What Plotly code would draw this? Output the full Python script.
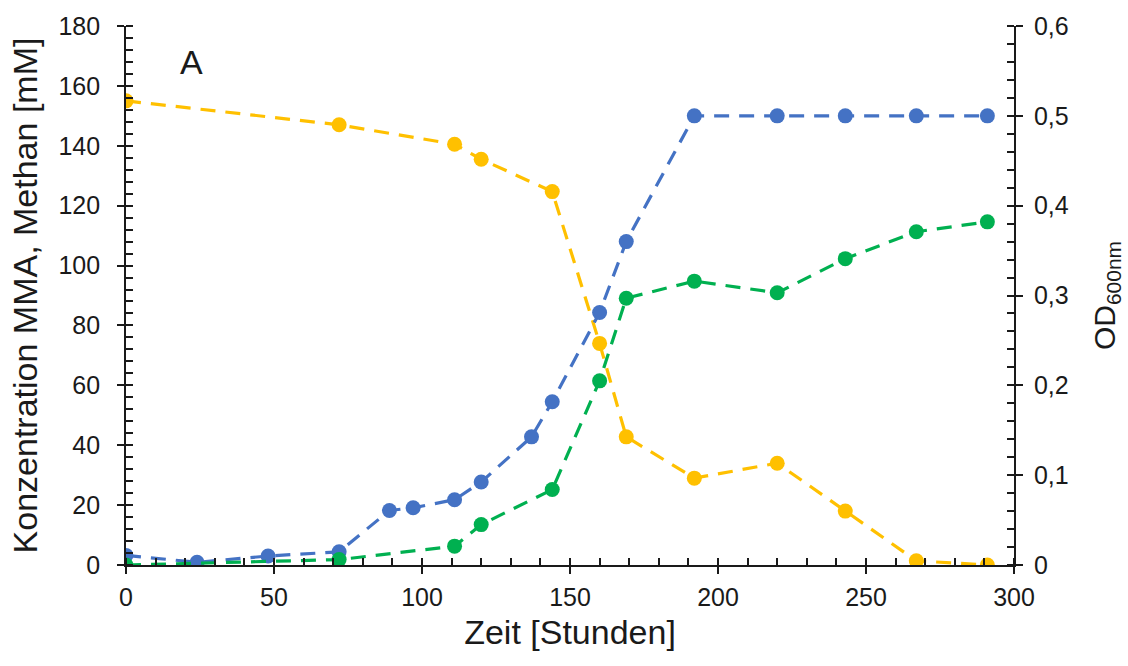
import plotly.graph_objects as go

# Zeit [h] und Messwerte
t_mma = [0, 72, 111, 120, 144, 160, 169, 192, 220, 243, 267, 291]
mma = [155, 147, 140.5, 135.5, 124.7, 74, 42.8, 29, 34, 18, 1.4, 0]

t_methan = [0, 24, 48, 72, 89, 97, 111, 120, 137, 144, 160, 169, 192, 220, 243, 267, 291]
methan = [3.2, 0.9, 3, 4.4, 18.2, 19.1, 21.8, 27.7, 42.8, 54.5, 84.3, 108, 150, 150, 150, 150, 150]

t_od = [0, 72, 111, 120, 144, 160, 169, 192, 220, 243, 267, 291]
od600 = [0, 0.006, 0.021, 0.045, 0.084, 0.205, 0.297, 0.316, 0.303, 0.341, 0.371, 0.382]

left_ticks = [0, 20, 40, 60, 80, 100, 120, 140, 160, 180]
right_ticks = [0, 0.1, 0.2, 0.3, 0.4, 0.5, 0.6]
x_ticks = [0, 50, 100, 150, 200, 250, 300]

C_MMA = "#FFC000"
C_METHAN = "#4472C4"
C_OD = "#00B050"
INK = "#1a1a1a"
FONT = "Liberation Sans, Arial, sans-serif"

DASH = "15px,10px"
MSIZE = 15
LW = 3.2

fig = go.Figure()

fig.add_trace(go.Scatter(
    x=t_od, y=od600, yaxis="y2", mode="lines+markers", name="OD600",
    line=dict(color=C_OD, width=LW, dash=DASH),
    marker=dict(color=C_OD, size=MSIZE),
))
fig.add_trace(go.Scatter(
    x=t_mma, y=mma, mode="lines+markers", name="MMA",
    line=dict(color=C_MMA, width=LW, dash=DASH),
    marker=dict(color=C_MMA, size=MSIZE),
))
fig.add_trace(go.Scatter(
    x=t_methan, y=methan, mode="lines+markers", name="Methan",
    line=dict(color=C_METHAN, width=LW, dash=DASH),
    marker=dict(color=C_METHAN, size=MSIZE),
))

tickfont = dict(family=FONT, size=25, color=INK)
titlefont = dict(family=FONT, size=34, color=INK)
minor_common = dict(ticks="inside", ticklen=7, tickwidth=1.5, tickcolor=INK)

fig.update_layout(
    width=1128, height=666,
    margin=dict(l=126, r=114, t=23, b=101),
    paper_bgcolor="white", plot_bgcolor="white",
    separators=",.",
    showlegend=False,
    font=dict(family=FONT, color=INK),
    xaxis=dict(
        range=[0, 300], tickvals=x_ticks, showgrid=False, zeroline=False,
        showline=True, linecolor=INK, linewidth=1.8,
        ticks="outside", ticklen=7, tickwidth=1.5, tickcolor=INK,
        tickfont=tickfont, ticklabelstandoff=2,
        minor=dict(dtick=10, **minor_common),
        title=dict(text="Zeit [Stunden]", font=titlefont, standoff=10),
    ),
    yaxis=dict(
        range=[0, 180], tickvals=left_ticks, showgrid=False, zeroline=False,
        showline=True, linecolor=INK, linewidth=1.8,
        ticks="outside", ticklen=7, tickwidth=1.5, tickcolor=INK,
        tickfont=tickfont, ticklabelstandoff=12,
        minor=dict(dtick=4, **minor_common),
        title=dict(text="Konzentration MMA, Methan [mM]", font=titlefont, standoff=10),
    ),
    yaxis2=dict(
        overlaying="y", side="right", anchor="x",
        range=[0, 0.6], tickvals=right_ticks, showgrid=False, zeroline=False,
        showline=True, linecolor=INK, linewidth=1.8,
        ticks="outside", ticklen=7, tickwidth=1.5, tickcolor=INK,
        tickfont=tickfont, ticklabelstandoff=6,
        minor=dict(dtick=0.02, **minor_common),
        title=dict(text="OD<sub>600nm</sub>", font=dict(family=FONT, size=30, color=INK), standoff=26),
    ),
    # inner halves of the major ticks, so they cross the axis lines
    xaxis2=dict(
        overlaying="x", anchor="y", side="bottom", range=[0, 300], tickvals=x_ticks,
        showticklabels=False, showgrid=False, zeroline=False, showline=False,
        ticks="inside", ticklen=7, tickwidth=1.5, tickcolor=INK,
    ),
    yaxis3=dict(
        overlaying="y", anchor="x", side="left", range=[0, 180], tickvals=left_ticks,
        showticklabels=False, showgrid=False, zeroline=False, showline=False,
        ticks="inside", ticklen=7, tickwidth=1.5, tickcolor=INK,
    ),
    yaxis4=dict(
        overlaying="y", anchor="x", side="right", range=[0, 0.6], tickvals=right_ticks,
        showticklabels=False, showgrid=False, zeroline=False, showline=False,
        ticks="inside", ticklen=7, tickwidth=1.5, tickcolor=INK,
    ),
    annotations=[dict(
        text="A", xref="x", yref="y", x=22, y=168, showarrow=False,
        font=dict(family=FONT, size=34, color=INK),
    )],
)

fig.write_html("out.html")
